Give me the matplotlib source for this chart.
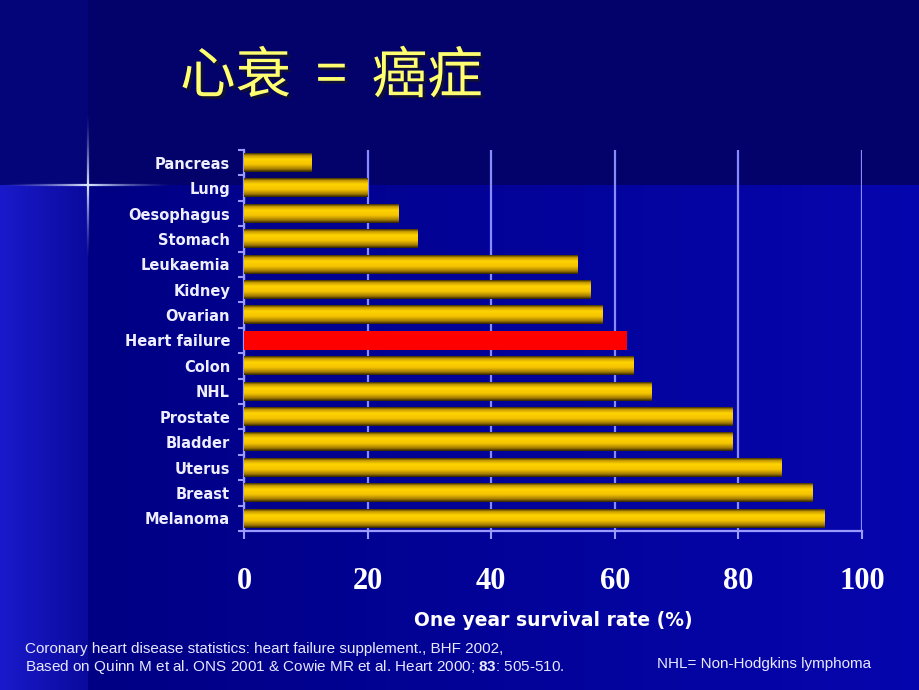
import numpy as np
import matplotlib.pyplot as plt
import matplotlib.patheffects as pe
from matplotlib.colors import LinearSegmentedColormap
from matplotlib.collections import LineCollection

plt.rcParams['mathtext.fontset'] = 'custom'
plt.rcParams['mathtext.rm'] = 'Liberation Sans'
plt.rcParams['mathtext.bf'] = 'Liberation Sans:bold'

# data
cancers = ['Pancreas', 'Lung', 'Oesophagus', 'Stomach', 'Leukaemia', 'Kidney',
           'Ovarian', 'Heart failure', 'Colon', 'NHL', 'Prostate', 'Bladder',
           'Uterus', 'Breast', 'Melanoma']
survival = [11, 20, 25, 28, 54, 56, 58, 62, 63, 66, 79, 79, 87, 92, 94]
highlight = 'Heart failure'
xticks = [0, 20, 40, 60, 80, 100]

title = '心衰  =  癌症'
xlabel = 'One year survival rate (%)'
source1 = 'Coronary heart disease statistics: heart failure supplement., BHF 2002,'
source2 = r'Based on Quinn M et al. ONS 2001 & Cowie MR et al. Heart 2000; $\mathbf{83}$: 505-510.'
note = 'NHL= Non-Hodgkins lymphoma'

W, H = 920, 690
fig = plt.figure(figsize=(W / 100, H / 100), dpi=100)

# slide background
bg = fig.add_axes([0, 0, 1, 1], zorder=-5)
img = np.zeros((H, W, 3))
xs = np.arange(W)
split_x, split_y = 88, 185
main = np.outer(np.ones(H), np.clip((xs - split_x) / (W - split_x), 0, 1))
c0 = np.array([0x00, 0x00, 0x84]) / 255
c1 = np.array([0x06, 0x06, 0xae]) / 255
img[:] = c0 + (c1 - c0) * main[..., None]
l0 = np.array([0x1a, 0x1a, 0xcc]) / 255
l1 = np.array([0x0a, 0x0a, 0x9c]) / 255
t = np.clip(xs[:split_x] / split_x, 0, 1)[None, :, None]
img[split_y:, :split_x] = l0 + (l1 - l0) * t
img[:split_y, :] = np.array([0x02, 0x02, 0x6a]) / 255
img[:split_y, :split_x] = np.array([0x05, 0x05, 0x7a]) / 255
bg.imshow(img, extent=[0, W, H, 0], aspect='auto')
bg.set_xlim(0, W)
bg.set_ylim(H, 0)
bg.axis('off')

# sparkle
def glow(x0, y0, x1, y1, n=40):
    px = np.linspace(x0, x1, n + 1)
    py = np.linspace(y0, y1, n + 1)
    segs = [[(px[i], py[i]), (px[i + 1], py[i + 1])] for i in range(n)]
    a = np.linspace(1, 0, n) ** 1.5
    cols = [(0.85, 0.9, 1.0, v) for v in a]
    bg.add_collection(LineCollection(segs, colors=cols, linewidths=1.6))

sx, sy = 88, 185
glow(sx, sy, 0, sy)
glow(sx, sy, 175, sy)
glow(sx, sy, sx, 112)
glow(sx, sy, sx, 262)

# chart
ax = fig.add_axes([244 / W, 1 - 531 / H, (862 - 244) / W, (531 - 150) / H])
ax.set_facecolor('none')

gold = LinearSegmentedColormap.from_list('gold', [
    (0.0, '#3a2c00'), (0.12, '#c89a00'), (0.32, '#ffd400'),
    (0.6, '#f5c400'), (0.85, '#a27a00'), (1.0, '#2e2200')])
grad = np.linspace(0, 1, 64)[:, None]

n = len(cancers)
h = 0.74
for i, (name, v) in enumerate(zip(cancers, survival)):
    if name == highlight:
        ax.barh(i, v, height=h, color='#ff0000', zorder=3)
    else:
        ax.imshow(grad, extent=[0, v, i + h / 2, i - h / 2], origin='upper',
                  cmap=gold, aspect='auto', zorder=3, interpolation='bilinear')

ax.set_xlim(0, 100)
ax.set_ylim(n - 0.5, -0.5)

ax.set_xticks(xticks)
ax.set_xticklabels([str(x) for x in xticks], fontfamily='Liberation Serif',
                   fontweight='bold', fontsize=22, color='white')
ax.tick_params(axis='x', length=6, width=1.5, color='#9a9aff', pad=20)
ax.set_yticks(range(n))
ax.set_yticklabels(cancers, fontfamily='DejaVu Sans', fontweight='bold',
                   fontsize=10.5, color='#eeeeff')
ax.tick_params(axis='y', length=0, pad=10)
ax.set_yticks(np.arange(-0.5, n, 1), minor=True)
ax.tick_params(axis='y', which='minor', length=4, width=1.5, color='#9a9aff')

ax.grid(axis='x', color='#8a8aff', linewidth=1.6, zorder=1)
ax.set_axisbelow(True)
for s in ['top', 'right']:
    ax.spines[s].set_visible(False)
for s in ['left', 'bottom']:
    ax.spines[s].set_color('#9a9aff')
    ax.spines[s].set_linewidth(1.6)

ax.set_xlabel(xlabel, fontfamily='DejaVu Sans', fontweight='bold',
              fontsize=13.5, color='white', labelpad=11)

# title and notes
fig.text(180 / W, 1 - 77 / H, title, fontfamily=['Noto Sans CJK SC', 'DejaVu Sans'],
         fontsize=40, fontweight='medium', color='#ffff70', ha='left', va='center',
         path_effects=[pe.withSimplePatchShadow(offset=(2, -2), shadow_rgbFace='#111133', alpha=0.9)])
fig.text(25 / W, 1 - 649 / H, source1, fontfamily='Liberation Sans',
         fontsize=11, color='#e8e8ff', ha='left', va='center')
fig.text(25 / W, 1 - 667 / H, source2, fontfamily='Liberation Sans',
         fontsize=11, color='#e8e8ff', ha='left', va='center')
fig.text(657 / W, 1 - 664 / H, note, fontfamily='Liberation Sans',
         fontsize=11, color='#e8e8ff', ha='left', va='center')

fig.savefig('out.png', dpi=100)
